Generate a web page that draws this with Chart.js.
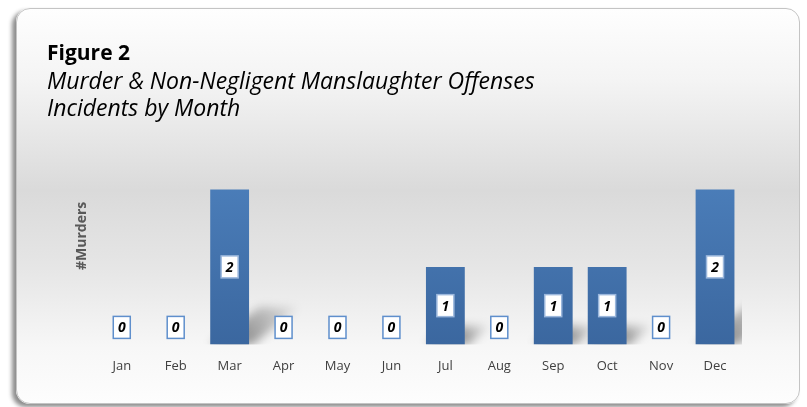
<!DOCTYPE html>
<html>
<head>
<meta charset="utf-8">
<script src="https://cdn.jsdelivr.net/npm/chart.js@4.4.1/dist/chart.umd.min.js"></script>
<style>
   html, body { margin: 0; padding: 0; background: #ffffff; }
   #wrap { position: relative; width: 807px; height: 407px; overflow: hidden; }
   #panel {
      position: absolute; left: 16px; top: 8px; width: 782px; height: 394px;
      border-radius: 14px; border: 1px solid #c4c4c4;
      box-shadow: -4px 3px 4px rgba(0,0,0,0.45);
      background: linear-gradient(to bottom, #fefefe 0%, #f4f4f4 18%, #dadada 46%, #e6e6e6 66%, #f7f7f7 86%, #fdfdfd 100%);
   }
   #c { position: absolute; left: 0; top: 0; }
</style>
</head>
<body>
<div id="wrap">
   <div id="panel"></div>
   <canvas id="c" width="807" height="407"></canvas>
</div>
<script>
const months = ['Jan', 'Feb', 'Mar', 'Apr', 'May', 'Jun', 'Jul', 'Aug', 'Sep', 'Oct', 'Nov', 'Dec'];
const murders = [0, 0, 2, 0, 0, 0, 1, 0, 1, 1, 0, 2];
const yMax = 2.8;

const titleText = 'Figure 2';
const subtitleLines = ['Murder & Non-Negligent Manslaughter Offenses', 'Incidents by Month'];
const yTitle = '#Murders';

// cast shadow on the "floor" to the right of each bar
let BarShadowPlugin = {
   id: 'barshadow',
   beforeDatasetsDraw: (chart) => {
      const ctx = chart.ctx;
      const area = chart.chartArea;
      const meta = chart.getDatasetMeta(0);
      ctx.save();
      ctx.beginPath();
      ctx.rect(area.left, area.top, area.right - area.left, area.bottom - area.top);
      ctx.clip();
      ctx.filter = 'blur(5px)';
      meta.data.forEach((bar, i) => {
         if (!murders[i]) {
            return;
         }
         const h = bar.base - bar.y;
         const half = bar.width / 2;
         const dx = h * 0.32, dy = h * 0.24;
         const g = ctx.createLinearGradient(bar.x + half, bar.base, bar.x + half + dx, bar.base - dy);
         g.addColorStop(0, 'rgba(0,0,0,0.4)');
         g.addColorStop(1, 'rgba(0,0,0,0.04)');
         ctx.fillStyle = g;
         ctx.beginPath();
         ctx.moveTo(bar.x - half, bar.base);
         ctx.lineTo(bar.x - half + dx, bar.base - dy);
         ctx.lineTo(bar.x + half + dx, bar.base - dy);
         ctx.lineTo(bar.x + half + 4, bar.base);
         ctx.closePath();
         ctx.fill();
      });
      ctx.restore();
   }
};

// boxed value labels
let ValueBoxPlugin = {
   id: 'valuebox',
   afterDatasetsDraw: (chart) => {
      const ctx = chart.ctx;
      const meta = chart.getDatasetMeta(0);
      ctx.save();
      ctx.font = 'italic bold 14px "Open Sans", sans-serif';
      ctx.textAlign = 'center';
      ctx.textBaseline = 'middle';
      meta.data.forEach((bar, i) => {
         const v = murders[i];
         const cy = v ? (bar.y + bar.base) / 2 : bar.base - 17;
         const w = 17, h = 22;
         ctx.fillStyle = '#ffffff';
         ctx.fillRect(bar.x - w / 2, cy - h / 2, w, h);
         ctx.lineWidth = 1.5;
         ctx.strokeStyle = v ? '#9bb7dc' : '#5f8fcc';
         ctx.strokeRect(bar.x - w / 2, cy - h / 2, w, h);
         ctx.fillStyle = '#000000';
         ctx.fillText(String(v), bar.x, cy + 1);
      });
      ctx.restore();
   }
};

const chart = new Chart(document.getElementById('c'), {
   type: 'bar',
   data: {
      labels: months,
      datasets: [{
         data: murders,
         backgroundColor: (c) => {
            const a = c.chart.chartArea;
            if (!a) {
               return '#4a7ab5';
            }
            const g = c.chart.ctx.createLinearGradient(0, a.top, 0, a.bottom);
            g.addColorStop(0, '#5085c2');
            g.addColorStop(1, '#3b679f');
            return g;
         },
         borderWidth: 0,
         categoryPercentage: 1,
         barPercentage: 0.72
      }]
   },
   plugins: [BarShadowPlugin, ValueBoxPlugin],
   options: {
      responsive: false,
      animation: false,
      events: [],
      layout: {
         padding: { left: 47, right: 65, top: 41, bottom: 19 }
      },
      plugins: {
         legend: { display: false },
         tooltip: { enabled: false },
         title: {
            display: true,
            text: titleText,
            align: 'start',
            color: '#000000',
            font: { family: '"Open Sans", sans-serif', size: 21, weight: 'bold', lineHeight: 1.2 },
            padding: { top: 0, bottom: 2 }
         },
         subtitle: {
            display: true,
            text: subtitleLines,
            align: 'start',
            color: '#000000',
            font: { family: '"Open Sans", sans-serif', size: 23, style: 'italic', lineHeight: 1.2 },
            padding: { top: 0, bottom: 4 }
         }
      },
      scales: {
         x: {
            grid: { display: false, drawTicks: false },
            border: { display: false },
            ticks: {
               color: '#404040',
               padding: 14,
               font: { family: '"Open Sans", sans-serif', size: 13 }
            }
         },
         y: {
            min: 0,
            max: yMax,
            grid: { display: false, drawTicks: false },
            border: { display: false },
            ticks: { display: false },
            title: {
               display: true,
               text: yTitle,
               color: '#595959',
               font: { family: '"Open Sans", sans-serif', size: 14, weight: 'bold' },
               padding: { top: 27, bottom: 4 }
            }
         }
      }
   }
});
</script>
</body>
</html>
